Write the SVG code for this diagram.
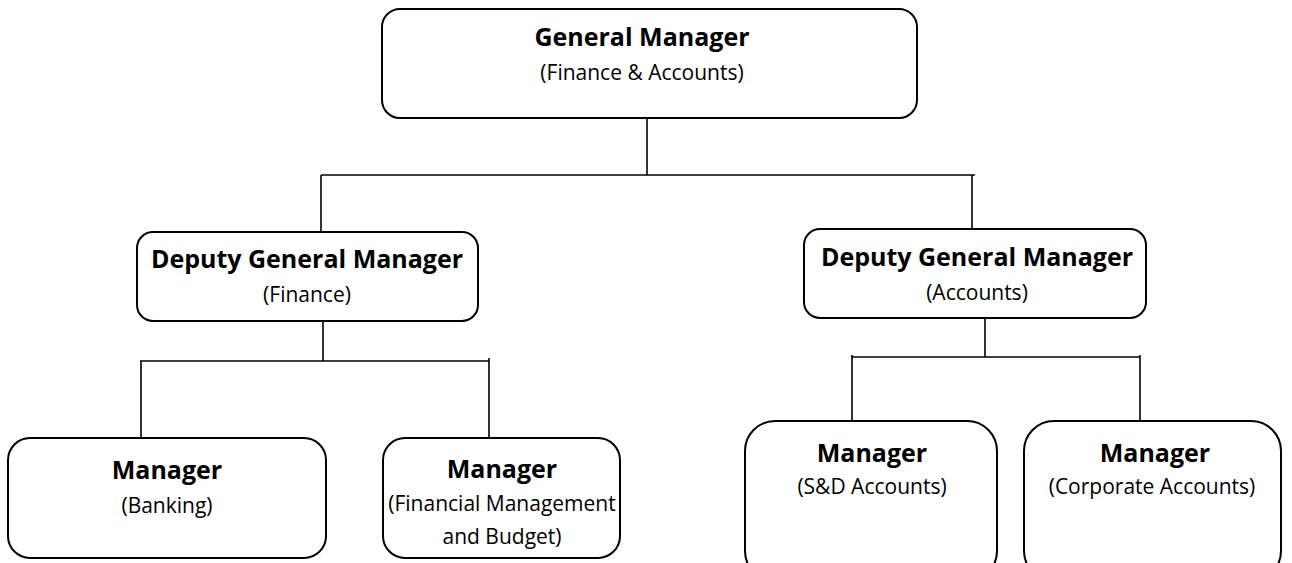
<svg xmlns="http://www.w3.org/2000/svg" width="1292" height="563" viewBox="0 0 1292 563">
<style>
.box{fill:#fff;stroke:#000;stroke-width:2}
.ln{stroke:#000;stroke-width:1.6;fill:none}
.t{font-family:"Open Sans","Liberation Sans",sans-serif;font-weight:bold;font-size:25px;text-anchor:middle;fill:#000}
.s{font-family:"Open Sans","Liberation Sans",sans-serif;font-size:21px;text-anchor:middle;fill:#000}
</style>
<rect width="1292" height="563" fill="#fff"/>
<g id="connectors">
<line class="ln" x1="647" y1="118" x2="647" y2="175"/>
<line class="ln" x1="321" y1="175" x2="975" y2="175"/>
<line class="ln" x1="321" y1="175" x2="321" y2="232"/>
<line class="ln" x1="972" y1="175" x2="972" y2="229"/>
<line class="ln" x1="323" y1="321" x2="323" y2="361"/>
<line class="ln" x1="140" y1="361" x2="489" y2="361"/>
<line class="ln" x1="141" y1="361" x2="141" y2="437"/>
<line class="ln" x1="489" y1="358" x2="489" y2="437"/>
<line class="ln" x1="985" y1="318" x2="985" y2="357"/>
<line class="ln" x1="851" y1="357" x2="1140" y2="357"/>
<line class="ln" x1="852" y1="355" x2="852" y2="420"/>
<line class="ln" x1="1140" y1="355" x2="1140" y2="420"/>
</g>
<g id="gm">
<rect class="box" x="382" y="9" width="535" height="109" rx="18"/>
<text class="t" x="642" y="46">General Manager</text>
<text class="s" x="642" y="80">(Finance &amp; Accounts)</text>
</g>
<g id="dgm-finance">
<rect class="box" x="137" y="232" width="341" height="89" rx="16"/>
<text class="t" x="307" y="268">Deputy General Manager</text>
<text class="s" x="307" y="302">(Finance)</text>
</g>
<g id="dgm-accounts">
<rect class="box" x="804" y="229" width="342" height="89" rx="16"/>
<text class="t" x="977" y="266">Deputy General Manager</text>
<text class="s" x="977" y="300">(Accounts)</text>
</g>
<g id="mgr-banking">
<rect class="box" x="8" y="438" width="318" height="120" rx="22"/>
<text class="t" x="167" y="479">Manager</text>
<text class="s" x="167" y="513">(Banking)</text>
</g>
<g id="mgr-fmb">
<rect class="box" x="383" y="438" width="237" height="120" rx="22"/>
<text class="t" x="502" y="478">Manager</text>
<text class="s" x="502" y="511">(Financial Management</text>
<text class="s" x="502" y="544">and Budget)</text>
</g>
<g id="mgr-sd">
<rect class="box" x="745" y="421" width="252" height="160" rx="30"/>
<text class="t" x="872" y="462">Manager</text>
<text class="s" x="872" y="494">(S&amp;D Accounts)</text>
</g>
<g id="mgr-corp">
<rect class="box" x="1024" y="421" width="257" height="160" rx="30"/>
<text class="t" x="1155" y="462">Manager</text>
<text class="s" x="1152" y="494">(Corporate Accounts)</text>
</g>
</svg>
